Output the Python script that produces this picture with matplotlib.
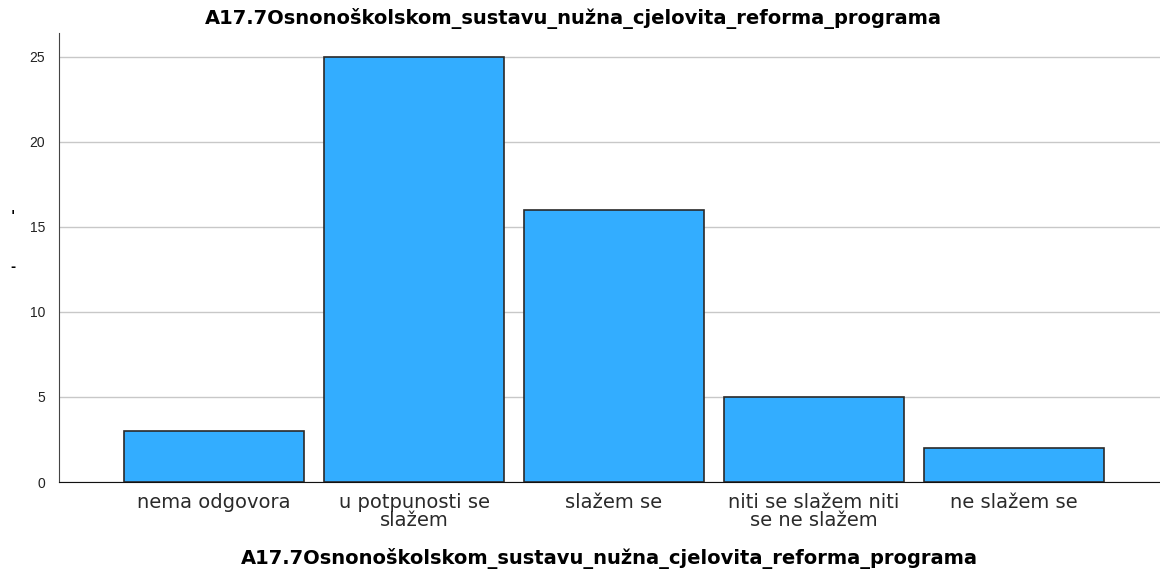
import matplotlib
matplotlib.use("Agg")
import matplotlib.pyplot as plt

# frequencies per answer category
categories = ["nema odgovora", "u potpunosti se\nslažem", "slažem se",
              "niti se slažem niti\nse ne slažem", "ne slažem se"]
counts = [3, 25, 16, 5, 2]
yticks = [0, 5, 10, 15, 20, 25]
var_name = "A17.7Osnonoškolskom_sustavu_nužna_cjelovita_reforma_programa"

fig = plt.figure(figsize=(11.6, 5.72), dpi=100)
ax = fig.add_axes([0.0509, 0.1573, 0.9491, 0.785])

x = list(range(len(categories)))
ax.bar(x, counts, width=0.9, color="#33adff", edgecolor="#2a2a2a",
       linewidth=1.2, zorder=3)
ax.set_xlim(-0.775, 4.73)
ax.set_ylim(0, 26.4)
ax.set_yticks(yticks)
ax.yaxis.grid(True, color="#c8c8c8", linewidth=1, zorder=0)
ax.set_axisbelow(True)

ax.set_xticks(x)
ax.set_xticklabels(categories, fontsize=14, family="DejaVu Sans",
                   color="#2a2a2a", linespacing=0.92)
ax.tick_params(axis="x", length=0, pad=8)
ax.tick_params(axis="y", length=0, pad=10, labelsize=10, labelcolor="#222222")
for lab in ax.get_yticklabels():
    lab.set_family("Liberation Sans")

for s in ("top", "right"):
    ax.spines[s].set_visible(False)
ax.spines["left"].set_color("#444444")
ax.spines["bottom"].set_color("#111111")

ax.set_xlabel(var_name, fontsize=14, fontweight="bold", family="DejaVu Sans",
              labelpad=13)
fig.text(0.494, 0.967, var_name, ha="center", va="center", fontsize=14,
         fontweight="bold", family="DejaVu Sans")

# stray marks where the y label would be
fig.text(0.011, 0.622, "'", fontsize=10, fontweight="bold", ha="center", va="center")
fig.text(0.011, 0.533, "-", fontsize=9, fontweight="bold", ha="center", va="center")

fig.savefig("out.png", dpi=100)
